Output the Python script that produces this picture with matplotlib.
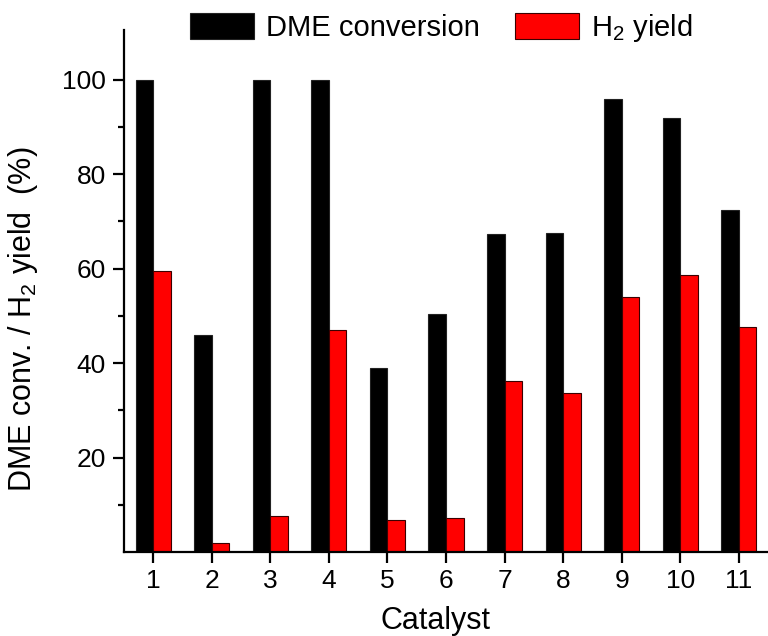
import matplotlib
matplotlib.use("Agg")
import matplotlib.pyplot as plt
import numpy as np

plt.rcParams['font.family'] = ['Liberation Sans', 'DejaVu Sans']
plt.rcParams['mathtext.fontset'] = 'custom'
plt.rcParams['mathtext.rm'] = 'Liberation Sans'

catalysts = [1, 2, 3, 4, 5, 6, 7, 8, 9, 10, 11]
dme_conversion = [100.0, 45.9, 100.0, 100.0, 38.9, 50.3, 67.4, 67.6, 95.9, 91.8, 72.5]
h2_yield = [59.4, 2.0, 7.6, 47.1, 6.8, 7.3, 36.3, 33.7, 54.0, 58.7, 47.7]

fig = plt.figure(figsize=(7.68, 6.36), dpi=100)
ax = fig.add_axes([124 / 768, (636 - 552) / 636, 1 - 124 / 768, (552 - 30) / 636])

x = np.array(catalysts, dtype=float)
w = 0.3
ax.bar(x - w / 2, dme_conversion, width=w, color='black', edgecolor='#222222',
       linewidth=0.8, label='DME conversion')
ax.bar(x + w / 2, h2_yield, width=w, color='#ff0000', edgecolor='#3a0000',
       linewidth=0.8, label='H$_2$ yield')

ax.set_xlim(0.5, 11.5)
ax.set_ylim(0, 110.5)
ax.set_xticks(catalysts)
ax.set_xticklabels([str(c) for c in catalysts])
ax.set_yticks([20, 40, 60, 80, 100])
ax.set_yticks([10, 30, 50, 70, 90], minor=True)

for side in ('top', 'right'):
    ax.spines[side].set_visible(False)
for side in ('left', 'bottom'):
    ax.spines[side].set_linewidth(1.6)

ax.tick_params(axis='both', which='major', direction='out', length=8,
               width=1.6, labelsize=19, pad=4)
ax.tick_params(axis='y', which='minor', direction='out', length=4, width=1.6)
ax.tick_params(axis='y', which='major', pad=5)

ax.set_xlabel('Catalyst', fontsize=22)
ax.xaxis.set_label_coords(0.483, -0.103)
ax.set_ylabel('DME conv. / H$_2$ yield  (%)', fontsize=22)
ax.yaxis.set_label_coords(-0.131, 0.445)

fig.legend(loc='center left', bbox_to_anchor=(190 / 768, 1 - 28 / 636),
           ncol=2, frameon=False, fontsize=21, handlelength=2.2,
           handleheight=0.96, handletextpad=0.41, columnspacing=1.2,
           borderpad=0, borderaxespad=0)

fig.savefig('out.png', dpi=100)
